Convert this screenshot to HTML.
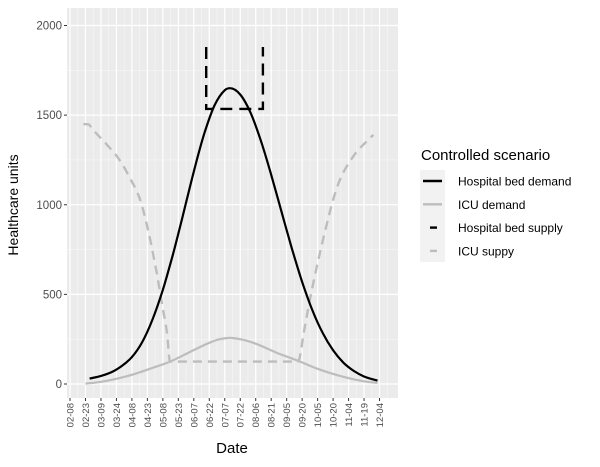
<!DOCTYPE html>
<html><head><meta charset="utf-8"><style>
body{margin:0;background:#fff;}
svg{display:block;font-family:"Liberation Sans",Arial,sans-serif;}
</style></head><body>
<svg id="c" width="600" height="467"></svg>
<script>
const xTicks=["02-08","02-23","03-09","03-24","04-08","04-23","05-08","05-23","06-07","06-22","07-07","07-22","08-06","08-21","09-05","09-20","10-05","10-20","11-04","11-19","12-04"];
const yTicks=[0,500,1000,1500,2000];
const hospDays=[19,30,40,50,60,70,80,90,100,110,120,130,140,150,155,165,175,185,195,205,215,225,235,245,255,265,275,285,298];
const hospDemand=[30,45,65,100,150,234,360,526,728,954,1185,1394,1553,1639,1650,1615,1513,1357,1167,961,757,570,410,284,188,119,73,42,19];
const icuDays=[15,30,48,65,80,97,115,135,145,155,165,180,200,223,240,265,285,298];
const icuDemand=[2,12,33,60,90,125,175,230,250,257,250,225,175,125,85,40,15,6];
const hospSupplyDays=[132,132,187,187];
const hospSupply=[1880,1535,1535,1880];
const icuSupplyDays=[13,18,22,35,48,58,68,76,84,90,94,97,221,227,233,245,259,274,294];
const icuSupply=[1450,1448,1420,1340,1250,1150,1027,850,620,420,285,125,125,300,485,800,1100,1265,1390];

const svg=document.getElementById('c');
const NS='http://www.w3.org/2000/svg';
const L=67,R=398,T=8,B=398;
const x=d=>70+d*(325/315);
const y=v=>384-v*(358.5/2000);
function mk(t,a,p){const e=document.createElementNS(NS,t);for(const k in a)e.setAttribute(k,a[k]);(p||svg).appendChild(e);return e;}
let e=mk('rect',{x:L,y:T,width:R-L,height:B-T,fill:'#ebebeb'});


const grid=mk('g',{});


for(let v=250;v<2200;v+=500){if(y(v)>T)mk('line',{x1:L,x2:R,y1:y(v),y2:y(v),stroke:'#f7f7f7','stroke-width':0.6},grid);}
for(let i=0;i<xTicks.length;i++){const xm=x(i*15+7.5);if(xm<R)mk('line',{x1:xm,x2:xm,y1:T,y2:B,stroke:'#f7f7f7','stroke-width':0.6},grid);}
yTicks.forEach(v=>mk('line',{x1:L,x2:R,y1:y(v),y2:y(v),stroke:'#fff','stroke-width':1.2},grid));
xTicks.forEach((t,i)=>mk('line',{x1:x(i*15),x2:x(i*15),y1:T,y2:B,stroke:'#fff','stroke-width':1.2},grid));
function monotone(xs,ys){
  const n=xs.length,dl=[],m=[];
  for(let i=0;i<n-1;i++)dl.push((ys[i+1]-ys[i])/(xs[i+1]-xs[i]));
  m[0]=dl[0];m[n-1]=dl[n-2];
  for(let i=1;i<n-1;i++){m[i]=(dl[i-1]*dl[i]<=0)?0:(dl[i-1]+dl[i])/2;}
  for(let i=0;i<n-1;i++){if(dl[i]===0){m[i]=0;m[i+1]=0;continue;}
    const a=m[i]/dl[i],b=m[i+1]/dl[i],s=a*a+b*b;if(s>9){const t=3/Math.sqrt(s);m[i]=t*a*dl[i];m[i+1]=t*b*dl[i];}}
  let d='M'+xs[0].toFixed(1)+','+ys[0].toFixed(1);
  for(let i=0;i<n-1;i++){const h=(xs[i+1]-xs[i])/3;
    d+=`C${(xs[i]+h).toFixed(1)},${(ys[i]+m[i]*h).toFixed(1)} ${(xs[i+1]-h).toFixed(1)},${(ys[i+1]-m[i+1]*h).toFixed(1)} ${xs[i+1].toFixed(1)},${ys[i+1].toFixed(1)}`;}
  return d;}
function path(ds,vs,attrs,name,smooth){
  let d;
  if(smooth)d=monotone(ds.map(x),vs.map(y));
  else d=ds.map((dd,i)=>(i?'L':'M')+x(dd).toFixed(1)+','+y(vs[i]).toFixed(1)).join('');
  const p=mk('path',Object.assign({d:d,fill:'none'},attrs));}
path(icuSupplyDays,icuSupply,{stroke:'#bdbdbd','stroke-width':2.4,'stroke-dasharray':'9,6'},'icu-supply-line',true);
path(icuDays,icuDemand,{stroke:'#bdbdbd','stroke-width':2.2},'icu-demand-line',true);
path(hospDays,hospDemand,{stroke:'#000','stroke-width':2.2},'hospital-bed-demand-line',true);
path(hospSupplyDays,hospSupply,{stroke:'#000','stroke-width':2.4,'stroke-dasharray':'12,7'},'hospital-bed-supply-line',false);
const ax=mk('g',{});


yTicks.forEach(v=>{mk('line',{x1:L-3,x2:L,y1:y(v),y2:y(v),stroke:'#333','stroke-width':1},ax);const t=mk('text',{x:L-5,y:y(v)+4,'text-anchor':'end','font-size':11.5,fill:'#4d4d4d'},ax);t.textContent=v;});
const xa=mk('g',{});


xTicks.forEach((s,i)=>{const xx=x(i*15);mk('line',{x1:xx,x2:xx,y1:B,y2:B+3,stroke:'#333','stroke-width':1},xa);const t=mk('text',{x:0,y:0,transform:`translate(${xx+3.5},${B+5}) rotate(-90)`,'text-anchor':'end','font-size':9.5,fill:'#4d4d4d'},xa);t.textContent=s;});
let tt=mk('text',{x:232,y:453,'text-anchor':'middle','font-size':15,fill:'#000'});tt.textContent='Date';

tt=mk('text',{x:0,y:0,transform:'translate(18,205) rotate(-90)','text-anchor':'middle','font-size':14,fill:'#000'});tt.textContent='Healthcare units';

const lg=mk('g',{});


tt=mk('text',{x:421,y:160,'font-size':15,fill:'#000'},lg);tt.textContent='Controlled scenario';
mk('rect',{x:420,y:170,width:25,height:92,fill:'#f2f2f2'},lg);
const leg=[['Hospital bed demand','#000',''],['ICU demand','#bdbdbd',''],['Hospital bed supply','#000','6,100'],['ICU suppy','#bdbdbd','6,100']];
leg.forEach((l,i)=>{const yy=181+i*23.3;
const g=mk('g',{},lg);


if(l[2])mk('line',{x1:430,x2:437,y1:yy,y2:yy,stroke:l[1],'stroke-width':2.4},g);
else mk('line',{x1:423,x2:442,y1:yy,y2:yy,stroke:l[1],'stroke-width':2.4},g);
const t=mk('text',{x:458,y:yy+4.5,'font-size':12,fill:'#000'},g);t.textContent=l[0];});
</script>
</body></html>
